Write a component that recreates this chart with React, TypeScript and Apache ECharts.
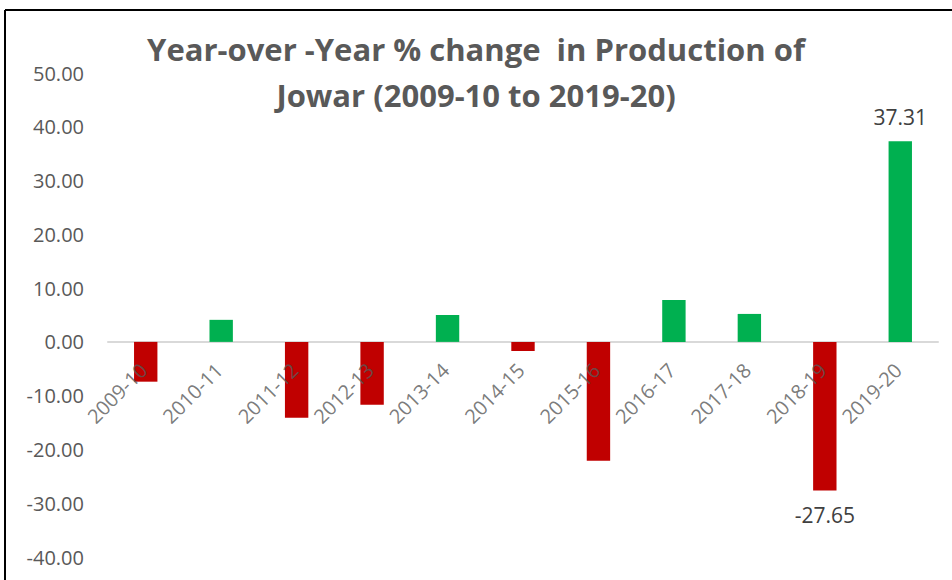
import React, { useEffect, useRef } from "react";
import * as echarts from "echarts";

const categories = ["2009-10", "2010-11", "2011-12", "2012-13", "2013-14", "2014-15", "2015-16", "2016-17", "2017-18", "2018-19", "2019-20"];
const values = [-7.4, 4.1, -14.1, -11.7, 5.0, -1.7, -22.1, 7.8, 5.2, -27.65, 37.31];
const labeledIndices = [9, 10];
const yMin = -40;
const yMax = 50;
const yInterval = 10;

export default function App() {
  const ref = useRef<HTMLDivElement>(null);
  useEffect(() => {
    const chart = echarts.init(ref.current!, null, { renderer: "svg" });
    const font = "'Open Sans', sans-serif";
    chart.setOption({
      animation: false,
      backgroundColor: "#ffffff",
      graphic: [
        { type: "line", shape: { x1: 5, y1: 10, x2: 952, y2: 10 }, style: { stroke: "#000", lineWidth: 2 } },
        { type: "line", shape: { x1: 5, y1: 10, x2: 5, y2: 580 }, style: { stroke: "#000", lineWidth: 2 } },
        {
          type: "text",
          left: "center",
          top: 26,
          style: {
            text: "Year-over -Year % change  in Production of\nJowar (2009-10 to 2019-20)",
            font: "bold 31px " + font,
            fill: "#595959",
            textAlign: "center",
            lineHeight: 46,
          },
        },
      ],
      grid: { left: 108, right: 14, top: 73, bottom: 23, containLabel: false, outerBoundsMode: "none" },
      xAxis: {
        type: "category",
        data: categories,
        axisLine: { onZero: true, lineStyle: { color: "#d9d9d9", width: 2 } },
        axisTick: { show: false },
        axisLabel: { show: false },
      },
      yAxis: {
        type: "value",
        min: yMin,
        max: yMax,
        interval: yInterval,
        splitLine: { show: false },
        axisLine: { show: false },
        axisTick: { show: false },
        axisLabel: { color: "#595959", fontSize: 20, fontFamily: font, margin: 24, formatter: (v: number) => v.toFixed(2) },
      },
      series: [
        {
          type: "bar",
          barWidth: "31%",
          data: values.map((v, i) => ({
            value: v,
            itemStyle: { color: v < 0 ? "#c00000" : "#00b050" },
            label: {
              show: labeledIndices.includes(i),
              position: v < 0 ? "bottom" : "top",
              distance: 14,
              color: "#404040",
              fontSize: 21,
              fontFamily: font,
              formatter: (p: any) => Number(p.value).toFixed(2),
            },
          })),
        },
        {
          type: "scatter",
          symbolSize: 0,
          silent: true,
          z: 5,
          data: categories.map((c) => [c, 0]),
          label: {
            show: true,
            position: [0, 0],
            offset: [-19, 16],
            rotate: 45,
            align: "right",
            verticalAlign: "middle",
            color: "#595959",
            fontSize: 20,
            fontFamily: font,
            formatter: (p: any) => p.value[0],
          },
        },
      ],
    });
    return () => chart.dispose();
  }, []);
  return <div ref={ref} style={{ position: "fixed", left: 0, top: 0, width: 952, height: 580 }} />;
}
